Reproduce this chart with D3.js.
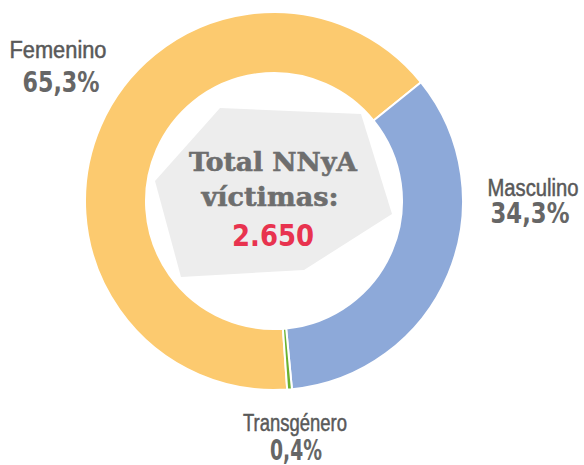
<!DOCTYPE html>
<html>
<head>
<meta charset="utf-8">
<script src="https://cdn.jsdelivr.net/npm/d3@7"></script>
<style>
  body { margin: 0; background: #fff; }
  svg { display: block; }
</style>
</head>
<body>
<div class="chart"></div>
<script>
// donut of NNyA victims by gender

var categories = ['Femenino', 'Masculino', 'Transgénero'];
var shares = [65.3, 34.3, 0.4];
var pctLabels = ['65,3%', '34,3%', '0,4%'];
var colors = ['#FCCA6F', '#8DA9D9', '#6BB12F'];
var totalLabel = '2.650';

var chart = {
  width: 584,
  height: 465,
  cx: 274,
  cy: 201,
  outer: 189,
  inner: 128,
  start: -184 // degrees, where Femenino begins
};

// label spots [name x, name baseline, name width, pct x, pct baseline, pct width]
var labelPos = [
  [58, 58, 97, 61, 92, 77],
  [533, 196, 91, 530, 223, 79],
  [295, 431, 104, 296, 460, 52]
];

var svg = d3.select('.chart')
  .append('svg')
  .attr('width', chart.width)
  .attr('height', chart.height);

var deg = Math.PI / 180;
var pie = d3.pie()
  .sort(null)
  .value(function(d){ return d; })
  .startAngle(chart.start * deg)
  .endAngle(chart.start * deg + 2 * Math.PI);

var arc = d3.arc()
  .innerRadius(chart.inner)
  .outerRadius(chart.outer);

var g = svg.append('g')
  .attr('transform', 'translate(' + chart.cx + ',' + chart.cy + ')');

g.selectAll('path')
  .data(pie(shares))
  .enter()
  .append('path')
  .attr('d', arc)
  .attr('fill', function(d, i){ return colors[i]; })
  .attr('stroke', '#fff')
  .attr('stroke-width', 2);

// grey blob behind the total (offsets from the centre)
var blob = [[-54, -93], [87, -87], [118, 13], [30, 69], [-93, 76], [-119, -20]];
g.append('polygon')
  .attr('points', blob.map(function(p){ return p.join(','); }).join(' '))
  .attr('fill', '#EDEDED');

var serif = "'DejaVu Serif', serif";
var sans = "'Liberation Sans Narrow', 'Liberation Sans', Arial, sans-serif";

g.append('text')
  .attr('x', -1).attr('y', -30)
  .attr('text-anchor', 'middle')
  .attr('font-family', serif)
  .attr('font-weight', 'bold')
  .attr('font-size', 26)
  .attr('fill', '#6E6E6E')
  .attr('stroke', '#6E6E6E')
  .attr('stroke-width', 0.6)
  .attr('textLength', 168)
  .attr('lengthAdjust', 'spacingAndGlyphs')
  .text('Total NNyA');

g.append('text')
  .attr('x', -4).attr('y', 5)
  .attr('text-anchor', 'middle')
  .attr('font-family', serif)
  .attr('font-weight', 'bold')
  .attr('font-size', 26)
  .attr('fill', '#6E6E6E')
  .attr('stroke', '#6E6E6E')
  .attr('stroke-width', 0.6)
  .attr('textLength', 137)
  .attr('lengthAdjust', 'spacingAndGlyphs')
  .text('víctimas:');

g.append('text')
  .attr('x', -1).attr('y', 45)
  .attr('text-anchor', 'middle')
  .attr('font-family', "'DejaVu Sans', sans-serif")
  .attr('font-weight', 'bold')
  .attr('font-size', 31)
  .attr('fill', '#E8334F')
  .attr('textLength', 82)
  .attr('lengthAdjust', 'spacingAndGlyphs')
  .text(totalLabel);

// outside labels
var labels = svg.selectAll('.lbl')
  .data(categories)
  .enter()
  .append('g')
  .attr('class', 'lbl');

labels.append('text')
  .attr('x', function(d, i){ return labelPos[i][0]; })
  .attr('y', function(d, i){ return labelPos[i][1]; })
  .attr('text-anchor', 'middle')
  .attr('font-family', sans)
  .attr('font-size', 23)
  .attr('fill', '#595959')
  .attr('stroke', '#595959')
  .attr('stroke-width', 0.5)
  .attr('textLength', function(d, i){ return labelPos[i][2]; })
  .attr('lengthAdjust', 'spacingAndGlyphs')
  .text(function(d){ return d; });

labels.append('text')
  .attr('x', function(d, i){ return labelPos[i][3]; })
  .attr('y', function(d, i){ return labelPos[i][4]; })
  .attr('text-anchor', 'middle')
  .attr('font-family', "'DejaVu Sans', sans-serif")
  .attr('font-weight', 'bold')
  .attr('font-size', 29)
  .attr('fill', '#666666')
  .attr('textLength', function(d, i){ return labelPos[i][5]; })
  .attr('lengthAdjust', 'spacingAndGlyphs')
  .text(function(d, i){ return pctLabels[i]; });
</script>
</body>
</html>
